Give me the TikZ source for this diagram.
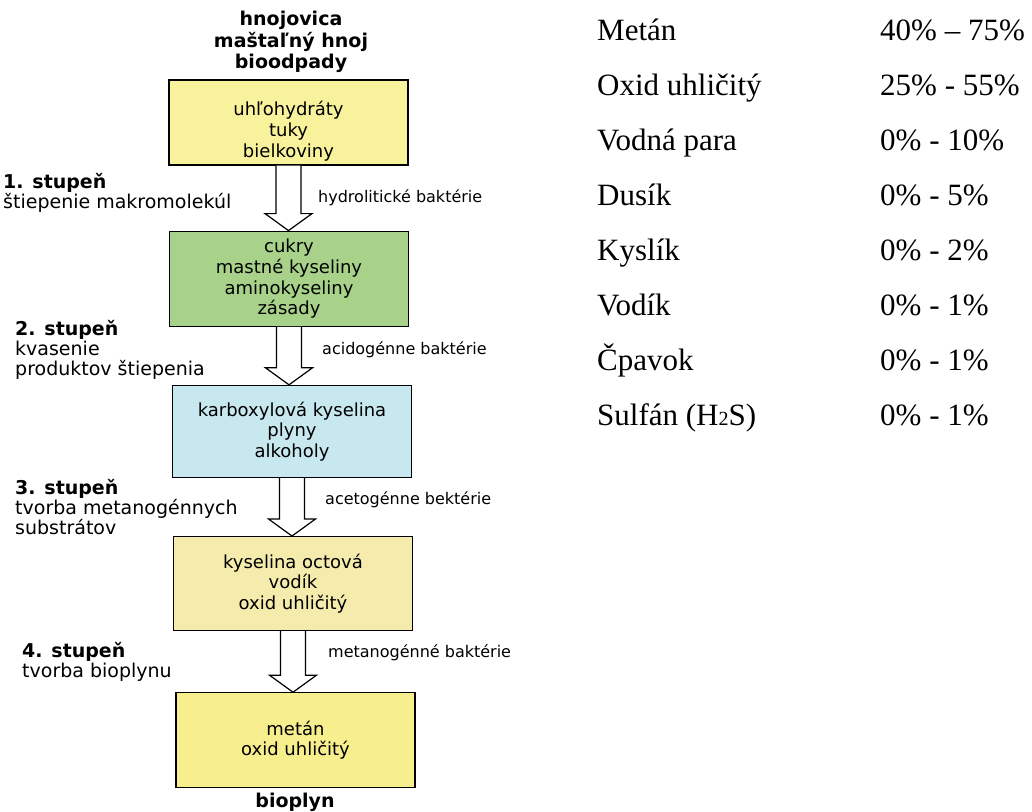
\documentclass[tikz,border=0pt]{standalone}
\usepackage{fontspec}
\setmainfont{Liberation Serif}
\newfontfamily\flowfont{DejaVu Sans}
\usetikzlibrary{positioning,calc}

\definecolor{boxyellow}{HTML}{F8F29C}
\definecolor{boxgreen}{HTML}{A8D28A}
\definecolor{boxblue}{HTML}{C8E8F0}
\definecolor{boxcream}{HTML}{F4EBAC}
\definecolor{boxgold}{HTML}{F7EE8E}

\tikzset{
  box/.style={rectangle, draw, line width=1.2pt, minimum width=239pt,
    align=center, font=\flowfont\fontsize{18}{20.7}\selectfont},
  flowarrow/.style={draw, fill=white, line width=1.2pt, line join=miter},
  stagelbl/.style={anchor=north west, align=left, inner sep=0pt,
    font=\flowfont\fontsize{19}{20}\selectfont},
  bactlbl/.style={anchor=west, inner sep=0pt, font=\flowfont\fontsize{16}{20}\selectfont},
  endlbl/.style={align=center, inner sep=0pt, font=\flowfont\bfseries\fontsize{19}{21.5}\selectfont},
  gasname/.style={anchor=base west, inner sep=0pt, font=\fontsize{31}{31}\selectfont},
  gasval/.style={anchor=base west, inner sep=0pt, font=\fontsize{31}{31}\selectfont}
}

\begin{document}
\begin{tikzpicture}[x=1pt, y=-1pt]
  \useasboundingbox (0,0) rectangle (1032,811);

  % flow of substances
  \node [box, minimum height=85pt, fill=boxyellow, text height=73pt] (carbs) at (288.5,122.5)
    {uhľohydráty\\tuky\\bielkoviny};
  \node [box, minimum height=95pt, fill=boxgreen, below=65pt of carbs, xshift=0.5pt] (sugars)
    {cukry\\mastné kyseliny\\aminokyseliny\\zásady};
  \node [box, minimum height=92pt, fill=boxblue, below=58pt of sugars, xshift=3pt] (acids)
    {karboxylová kyselina\\plyny\\alkoholy};
  \node [box, minimum height=94pt, fill=boxcream, below=58pt of acids, xshift=1pt] (acetic)
    {kyselina octová\\vodík\\oxid uhličitý};
  \node [box, minimum height=95pt, fill=boxgold, below=61pt of acetic, xshift=2.5pt] (gas)
    {metán\\oxid uhličitý};

  \node [endlbl] (input) at (291,42) {hnojovica\\maštaľný hnoj\\bioodpady};
  \node [endlbl] (output) at (295,802) {bioplyn};

  % block arrows
  \foreach \a/\b in {carbs/sugars, sugars/acids, acids/acetic, acetic/gas}{
    \coordinate (tip) at (\a.south |- \b.north);
    \draw [flowarrow] ($(\a.south)+(-12.5,0)$) -- ($(tip)+(-12.5,-17)$)
      -- ($(tip)+(-23.5,-17)$) -- (tip) -- ($(tip)+(23.5,-17)$)
      -- ($(tip)+(12.5,-17)$) -- ($(\a.south)+(12.5,0)$);
  }

  % stages
  \node [stagelbl] (stage1) at (3,173) {\textbf{1. stupeň}\\štiepenie makromolekúl};
  \node [stagelbl] (stage2) at (15,320) {\textbf{2. stupeň}\\kvasenie\\produktov štiepenia};
  \node [stagelbl] (stage3) at (15,479) {\textbf{3. stupeň}\\tvorba metanogénnych\\substrátov};
  \node [stagelbl] (stage4) at (22,642) {\textbf{4. stupeň}\\tvorba bioplynu};

  % bacteria
  \node [bactlbl] (bact1) at (318,198) {hydrolitické baktérie};
  \node [bactlbl] (bact2) at (322,350) {acidogénne baktérie};
  \node [bactlbl] (bact3) at (325,500) {acetogénne bektérie};
  \node [bactlbl] (bact4) at (328,653) {metanogénné baktérie};

  % composition of biogas
  \foreach \name/\val [count=\i] in {Metán/40\% – 75\%, Oxid uhličitý/25\% - 55\%,
      Vodná para/0\% - 10\%, Dusík/0\% - 5\%, Kyslík/0\% - 2\%, Vodík/0\% - 1\%,
      Čpavok/0\% - 1\%, {Sulfán (H{\fontsize{20}{20}\selectfont 2}S)}/0\% - 1\%}{
    \node [gasname] (gas\i) at (597,{40+55*(\i-1)}) {\name};
    \node [gasval] (val\i) at (880,{40+55*(\i-1)}) {\val};
  }
\end{tikzpicture}
\end{document}
